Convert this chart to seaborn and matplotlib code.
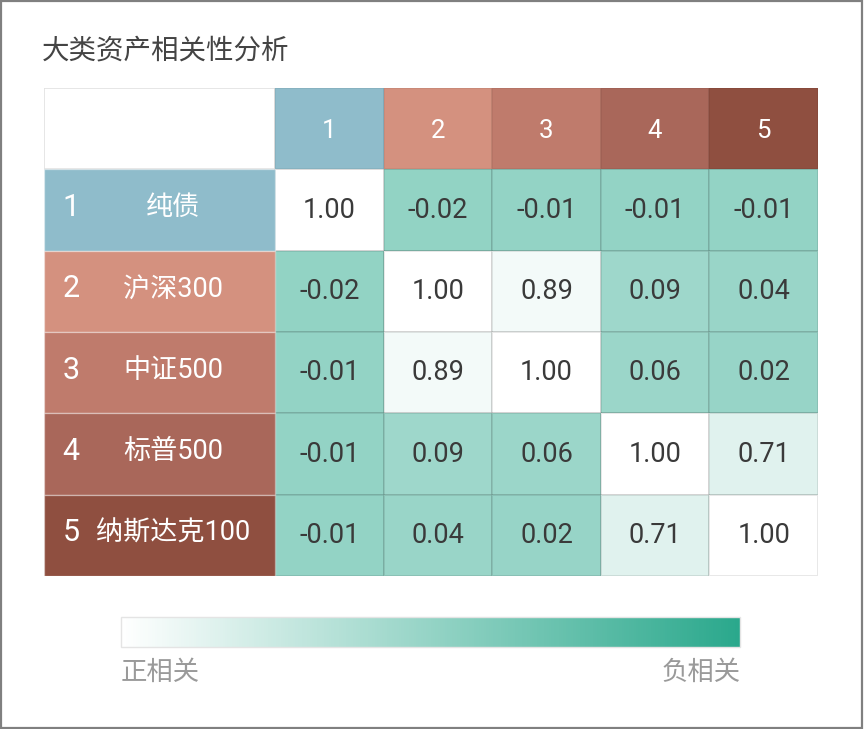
import numpy as np
import pandas as pd
import matplotlib
matplotlib.use("Agg")
import matplotlib.pyplot as plt
from matplotlib.colors import LinearSegmentedColormap
from matplotlib.patches import Rectangle
import seaborn as sns

# ---- data ----
asset_ids = ["1", "2", "3", "4", "5"]
asset_names = ["纯债", "沪深300", "中证500", "标普500", "纳斯达克100"]
row1 = [1.00, -0.02, -0.01, -0.01, -0.01]
row2 = [-0.02, 1.00, 0.89, 0.09, 0.04]
row3 = [-0.01, 0.89, 1.00, 0.06, 0.02]
row4 = [-0.01, 0.09, 0.06, 1.00, 0.71]
row5 = [-0.01, 0.04, 0.02, 0.71, 1.00]
title = "大类资产相关性分析"
legend_left = "正相关"
legend_right = "负相关"

# ---- style ----
sns.set_theme(style="white")
plt.rcParams["font.family"] = ["Roboto", "Noto Sans CJK SC", "DejaVu Sans"]
header_colors = ["#8fbccb", "#d4917f", "#bf7b6c", "#a9675a", "#8f4f40"]
cmap = LinearSegmentedColormap.from_list("corr", ["#2aa88c", "#ffffff"])

df = pd.DataFrame([row1, row2, row3, row4, row5], index=asset_ids, columns=asset_ids)

fig = plt.figure(figsize=(8.64, 7.29), dpi=100)
ax = fig.add_axes([44 / 864, 1 - 576 / 729, (818 - 44) / 864, (576 - 88) / 729])
cax = fig.add_axes([121 / 864, 1 - 647 / 729, (740 - 121) / 864, 30 / 729])

sns.heatmap(df, ax=ax, cmap=cmap, vmin=-1, vmax=1, annot=True, fmt=".2f",
            annot_kws={"fontsize": 19.5, "color": "#3a3a3a"},
            linewidths=1.2, linecolor=(0, 0, 0, 0.09),
            cbar=True, cbar_ax=cax, cbar_kws={"orientation": "horizontal"})

label_w = (275 - 44) / ((818 - 275) / 5)
ax.set_xlim(-label_w, 5)
ax.set_ylim(5, -1)
ax.set_xticks([])
ax.set_yticks([])
for s in ax.spines.values():
    s.set_visible(False)

# top-left empty cell
ax.add_patch(Rectangle((-label_w, -1), label_w, 1, facecolor="white",
                       edgecolor="#e2e2e2", lw=1.2, zorder=0.5))
# header row
for j, (lab, c) in enumerate(zip(asset_ids, header_colors)):
    ax.add_patch(Rectangle((j, -1), 1, 1, facecolor=c, edgecolor=(0, 0, 0, 0.06), lw=1.2))
    ax.text(j + 0.5, -0.47, lab, ha="center", va="center", color="white", fontsize=18.5)
# label column
for i, (lab, name, c) in enumerate(zip(asset_ids, asset_names, header_colors)):
    ax.add_patch(Rectangle((-label_w, i), label_w, 1, facecolor=c, edgecolor=(1, 1, 1, 0.35), lw=1.0))
    ax.text(-label_w + 0.17, i + 0.47, lab, ha="left", va="center", color="white", fontsize=22)
    ax.text(-label_w + 1.188, i + 0.47, name, ha="center", va="center", color="white", fontsize=19.5)

# colorbar: white on left, teal on right
cax.invert_xaxis()
cax.set_xticks([])
cax.set_yticks([])
cb = ax.collections[0].colorbar
cb.outline.set_edgecolor("#e4e4e4")
cb.outline.set_linewidth(1.0)

fig.text(42 / 864, 1 - 51 / 729, title, ha="left", va="center", fontsize=19.8, color="#444444")
fig.text(121 / 864, 1 - 673 / 729, legend_left, ha="left", va="center", fontsize=19, color="#9a9a9a")
fig.text(741 / 864, 1 - 673 / 729, legend_right, ha="right", va="center", fontsize=19, color="#9a9a9a")

fig.add_artist(Rectangle((0.0015, 0.002), 0.996, 0.996, transform=fig.transFigure,
                         fill=False, edgecolor="#808080", lw=1.6))

fig.savefig("out.png", dpi=100, facecolor="white")
